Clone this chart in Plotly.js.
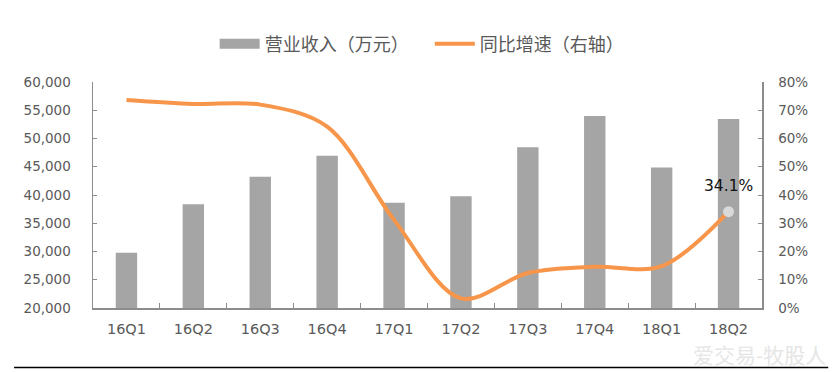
<!DOCTYPE html>
<html>
<head>
<meta charset="utf-8">
<script src="https://cdn.plot.ly/plotly-3.0.1.min.js"></script>
<style>html,body{margin:0;padding:0;background:#fff;}#chart{width:838px;height:372px;}</style>
</head>
<body>
<div id="chart"></div>
<script>
const quarters = ['16Q1','16Q2','16Q3','16Q4','17Q1','17Q2','17Q3','17Q4','18Q1','18Q2'];
const revenue = [29800, 38350, 43250, 46950, 38650, 39800, 48450, 53980, 44850, 53450];
const growth = [0.736, 0.722, 0.720, 0.642, 0.312, 0.034, 0.124, 0.146, 0.148, 0.341];
const leftTicks = [20000, 25000, 30000, 35000, 40000, 45000, 50000, 55000, 60000];
const rightTicks = [0, 0.1, 0.2, 0.3, 0.4, 0.5, 0.6, 0.7, 0.8];
const lastIdx = quarters.length - 1;
const barName = '营业收入（万元）';
const lineName = '同比增速（右轴）';

const tickFont = {family: 'DejaVu Sans, sans-serif', size: 13.5, color: '#595959'};

const traces = [
  {
    type: 'bar', name: barName, x: quarters, y: revenue, showlegend: false,
    marker: {color: '#a5a5a5'}, width: 0.32, yaxis: 'y', hoverinfo: 'skip'
  },
  {
    // legend swatch for the bars (wide rectangle, as in the reference)
    type: 'scatter', mode: 'lines', name: barName + '\u00a0\u00a0\u00a0\u00a0', x: [null], y: [null],
    line: {color: '#a5a5a5', width: 10}, yaxis: 'y', hoverinfo: 'skip'
  },
  {
    type: 'scatter', mode: 'lines', name: lineName, x: quarters, y: growth,
    line: {color: '#f7964a', width: 4, shape: 'spline', smoothing: 0.95}, yaxis: 'y2', hoverinfo: 'skip'
  },
  {
    type: 'scatter', mode: 'markers', x: [quarters[lastIdx]], y: [growth[lastIdx]],
    marker: {color: '#d9d9d9', size: 11}, yaxis: 'y2', showlegend: false, hoverinfo: 'skip'
  }
];

const layout = {
  width: 838, height: 372,
  margin: {l: 93, r: 76, t: 82, b: 64},
  paper_bgcolor: '#ffffff', plot_bgcolor: '#ffffff',
  showlegend: true,
  legend: {
    orientation: 'h', x: 0.492, xanchor: 'center', y: 1.168, yanchor: 'middle',
    font: {family: 'Noto Sans CJK SC, sans-serif', size: 18, color: '#595959'},
    itemwidth: 40, tracegroupgap: 0, traceorder: 'normal'
  },
  bargap: 0.68,
  xaxis: {
    type: 'category', categoryorder: 'array', categoryarray: quarters,
    showline: true, linecolor: '#8c8c8c', linewidth: 1.5,
    ticks: 'inside', tickson: 'boundaries', ticklen: 5, tickcolor: '#8c8c8c',
    showgrid: false, zeroline: false,
    tickfont: {family: 'DejaVu Sans, sans-serif', size: 14.5, color: '#595959'}, ticklabelstandoff: 7,
    range: [-0.5, quarters.length - 0.5]
  },
  yaxis: {
    range: [20000, 60000], tickvals: leftTicks, tickformat: ',', showgrid: false, zeroline: false,
    showline: true, linecolor: '#8c8c8c', linewidth: 1.5,
    ticks: 'inside', ticklen: 4, tickcolor: '#8c8c8c', tickfont: tickFont, ticklabelstandoff: 18
  },
  yaxis2: {
    overlaying: 'y', side: 'right', range: [0, 0.8], tickvals: rightTicks, tickformat: '.0%',
    showgrid: false, zeroline: false, showline: true, linecolor: '#8c8c8c', linewidth: 1.5,
    ticks: 'inside', ticklen: 4, tickcolor: '#8c8c8c', tickfont: tickFont, ticklabelstandoff: 12
  },
  annotations: [
    {
      x: quarters[lastIdx], y: growth[lastIdx], xref: 'x', yref: 'y2',
      text: (growth[lastIdx] * 100).toFixed(1) + '%', showarrow: false, yshift: 26,
      font: {family: 'DejaVu Sans, sans-serif', size: 15.5, color: '#111111'}
    },
    {
      x: 0.997, y: -0.202, xref: 'paper', yref: 'paper', xanchor: 'center', yanchor: 'middle',
      text: '爱交易-牧股人', showarrow: false,
      font: {family: 'Noto Sans CJK SC, sans-serif', size: 21, color: '#e6e6e6'}
    }
  ],
  shapes: [
    {type: 'line', xref: 'paper', yref: 'paper', x0: -0.118, x1: 1.099, y0: -0.263, y1: -0.263,
     line: {color: '#000000', width: 1.5}}
  ]
};

Plotly.newPlot('chart', traces, layout, {staticPlot: true, displayModeBar: false});
</script>
</body>
</html>
